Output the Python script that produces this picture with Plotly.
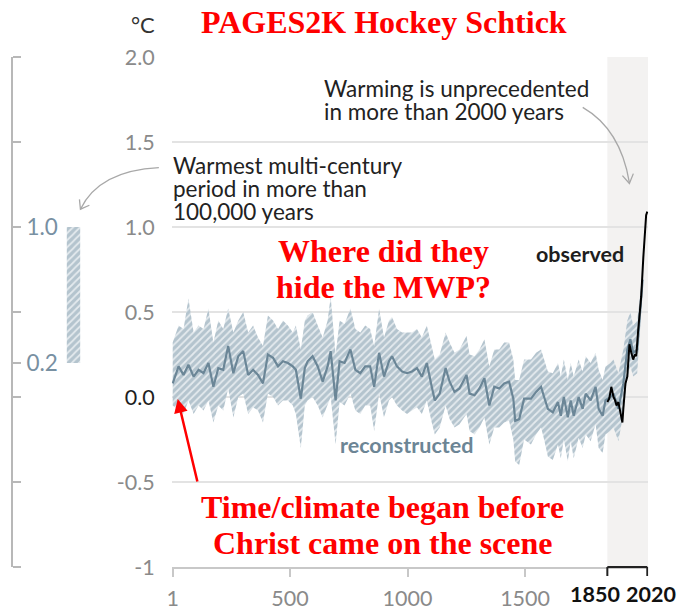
import plotly.graph_objects as go

# ---------------- data ----------------
years = [1, 26, 47, 68, 90, 111, 132, 153, 174, 195, 216, 237, 259, 280, 301, 322, 343, 364, 385,
         406, 428, 449, 470, 491, 512, 525, 546, 563, 575, 596, 618, 639, 660, 673, 694, 711, 732,
         757, 778, 799, 820, 841, 858, 879, 900, 921, 934, 955, 977, 998, 1019, 1040, 1061, 1082,
         1103, 1116, 1137, 1162, 1179, 1200, 1221, 1251, 1264, 1285, 1306, 1327, 1348, 1369, 1390,
         1411, 1432, 1450, 1458, 1475, 1496, 1525, 1547, 1568, 1581, 1597, 1618, 1640, 1652, 1665,
         1682, 1694, 1707, 1728, 1745, 1758, 1779, 1800, 1813, 1830, 1842, 1863, 1876, 1897, 1918,
         1935, 1948, 1960, 1977, 1990, 2000]
recon_mean = [0.08, 0.18, 0.13, 0.19, 0.12, 0.16, 0.14, 0.20, 0.06, 0.17, 0.16, 0.30, 0.14, 0.24,
              0.27, 0.13, 0.16, 0.13, 0.08, 0.25, 0.23, 0.18, 0.21, 0.20, 0.18, 0.16, -0.01, 0.17,
              0.21, 0.24, 0.18, 0.09, 0.18, 0.27, -0.02, 0.21, 0.20, 0.28, 0.16, 0.14, 0.18, 0.18,
              0.06, 0.26, 0.12, 0.21, 0.24, 0.18, 0.15, 0.14, 0.15, 0.17, 0.12, 0.20, 0.06, -0.02,
              0.02, 0.17, 0.09, 0.03, 0.05, 0.13, 0.02, 0.01, 0.05, 0.11, -0.05, 0.06, 0.05, 0.08,
              0.09, -0.01, -0.14, -0.13, -0.01, -0.01, 0.03, 0.06, 0.00, -0.07, -0.09, -0.03, -0.11,
              0.00, -0.12, -0.02, -0.11, 0.00, -0.07, 0.02, -0.02, 0.06, -0.07, -0.11, -0.02, 0.00,
              0.02, -0.07, 0.08, 0.28, 0.34, 0.26, 0.28, 0.53, 0.69]
recon_upper = [0.32, 0.42, 0.40, 0.58, 0.38, 0.42, 0.40, 0.52, 0.32, 0.45, 0.40, 0.52, 0.38, 0.45,
               0.50, 0.38, 0.42, 0.35, 0.30, 0.48, 0.45, 0.40, 0.45, 0.42, 0.38, 0.42, 0.28, 0.45,
               0.48, 0.50, 0.42, 0.35, 0.45, 0.59, 0.25, 0.45, 0.43, 0.52, 0.40, 0.38, 0.42, 0.40,
               0.30, 0.52, 0.35, 0.45, 0.47, 0.40, 0.38, 0.38, 0.38, 0.40, 0.35, 0.42, 0.30, 0.22,
               0.25, 0.38, 0.32, 0.26, 0.28, 0.36, 0.25, 0.24, 0.28, 0.34, 0.18, 0.28, 0.28, 0.32,
               0.32, 0.22, 0.10, 0.10, 0.22, 0.22, 0.26, 0.28, 0.22, 0.15, 0.14, 0.20, 0.12, 0.22,
               0.10, 0.20, 0.12, 0.22, 0.15, 0.24, 0.20, 0.26, 0.16, 0.10, 0.18, 0.20, 0.22, 0.14,
               0.28, 0.45, 0.50, 0.42, 0.45, 0.62, 0.72]
recon_lower = [-0.05, -0.08, -0.10, -0.02, -0.10, -0.05, -0.08, -0.02, -0.15, -0.05, -0.08, 0.05,
               -0.12, 0.00, 0.02, -0.10, -0.06, -0.08, -0.15, 0.02, 0.00, -0.05, -0.02, -0.02,
               -0.05, -0.10, -0.30, -0.05, -0.02, 0.00, -0.05, -0.12, -0.05, 0.00, -0.28, -0.03,
               -0.05, 0.02, -0.08, -0.10, -0.05, -0.05, -0.20, 0.02, -0.12, -0.02, 0.00, -0.05,
               -0.08, -0.10, -0.08, -0.06, -0.10, -0.02, -0.15, -0.22, -0.18, -0.05, -0.13, -0.18,
               -0.16, -0.10, -0.20, -0.22, -0.18, -0.12, -0.28, -0.18, -0.18, -0.15, -0.14, -0.25,
               -0.38, -0.40, -0.25, -0.28, -0.22, -0.18, -0.25, -0.35, -0.37, -0.28, -0.36, -0.25,
               -0.38, -0.26, -0.36, -0.24, -0.30, -0.22, -0.26, -0.16, -0.30, -0.33, -0.22, -0.20,
               -0.18, -0.26, -0.10, 0.12, 0.18, 0.12, 0.14, 0.42, 0.62]
obs_years = [1850, 1858, 1867, 1876, 1883, 1889, 1897, 1906, 1914, 1918, 1927, 1935, 1944, 1952,
             1960, 1967, 1973, 1981, 1994, 2003, 2010, 2015, 2020]
obs_values = [-0.03, -0.01, 0.06, 0.00, -0.02, -0.05, -0.03, -0.09, -0.15, -0.07, 0.08, 0.12,
              0.31, 0.26, 0.22, 0.25, 0.24, 0.39, 0.59, 0.82, 0.95, 1.07, 1.09]
warm_period = [0.2, 1.0]  # warmest multi-century period in >100,000 years

y_ticks = [-1, -0.5, 0, 0.5, 1, 1.5, 2]
y_tick_text = ["-1", "-0.5", "<span style='color:#1e1e1e'>0.0</span>", "0.5", "1.0", "1.5", "2.0"]
x_ticks = [1, 500, 1000, 1500]
x_tick_text = ["1", "500", "1000", "1500"]
left_ticks = [-1, -0.5, 0, 0.2, 0.5, 1, 1.5, 2]
left_tick_text = ["", "", "", "0.2", "", "1.0", "", ""]

# ---------------- geometry helpers ----------------
W, H = 681, 611
MT, MB = 57, 38
PH = H - MT - MB


def px(x):
    return x / W


def py(y):
    return (H - MB - y) / PH


BAND_BG = "#b4c4ce"
BAND_FG = "#e4eaee"
LINE_COL = "#6b8697"
GRAY_TXT = "#8a8a8a"
FONT = "Lato"
TICK_SIZE = 21.5
NOTE_SIZE = 22.5
RED_SIZE = 32

fig = go.Figure()

fig.add_trace(go.Scatter(x=years, y=recon_lower, mode="lines", line=dict(width=0),
                         hoverinfo="skip", showlegend=False))
fig.add_trace(go.Scatter(x=years, y=recon_upper, mode="lines", line=dict(width=0),
                         fill="tonexty", fillcolor=BAND_BG,
                         fillpattern=dict(shape="/", bgcolor=BAND_BG, fgcolor=BAND_FG,
                                          size=5, solidity=0.35, fillmode="replace"),
                         hoverinfo="skip", showlegend=False))
fig.add_trace(go.Scatter(x=years, y=recon_mean, mode="lines",
                         line=dict(color=LINE_COL, width=2.2), showlegend=False))
fig.add_trace(go.Scatter(x=obs_years, y=obs_values, mode="lines",
                         line=dict(color="black", width=2), showlegend=False))
fig.add_trace(go.Bar(x=[0], y=[warm_period[1] - warm_period[0]], base=[warm_period[0]],
                     width=1, xaxis="x2", yaxis="y2",
                     marker=dict(color=BAND_BG, line=dict(width=0),
                                 pattern=dict(shape="/", bgcolor=BAND_BG, fgcolor=BAND_FG,
                                              size=5, solidity=0.35, fillmode="replace")),
                     showlegend=False))

shapes = [
    dict(type="rect", xref="x", yref="paper", x0=1850, x1=2024, y0=0, y1=1,
         fillcolor="#f3f2f1", line=dict(width=0), layer="below"),
    dict(type="line", xref="x", yref="paper", x0=1850, x1=2020, y0=0, y1=0,
         line=dict(color="#222", width=2)),
    dict(type="line", xref="x", yref="paper", x0=1850, x1=1850, y0=0, y1=py(582),
         line=dict(color="#222", width=2)),
    dict(type="line", xref="x", yref="paper", x0=2020, x1=2020, y0=0, y1=py(582),
         line=dict(color="#222", width=2)),
    # curved arrow: warming unprecedented
    dict(type="path", xref="paper", yref="paper",
         path=f"M {px(582)} {py(108)} Q {px(620)} {py(130)} {px(629)} {py(184)}",
         line=dict(color="#a8a8a8", width=1.3)),
    dict(type="path", xref="paper", yref="paper",
         path=f"M {px(622)} {py(177)} L {px(629)} {py(185)} L {px(633)} {py(175)}",
         line=dict(color="#a8a8a8", width=1.3)),
    # curved arrow: warmest multi-century
    dict(type="path", xref="paper", yref="paper",
         path=f"M {px(155)} {py(169)} Q {px(95)} {py(172)} {px(76)} {py(211)}",
         line=dict(color="#a8a8a8", width=1.3)),
    dict(type="path", xref="paper", yref="paper",
         path=f"M {px(75)} {py(201)} L {px(76)} {py(211)} L {px(85)} {py(207)}",
         line=dict(color="#a8a8a8", width=1.3)),
]


def txt(text, x, y, size=NOTE_SIZE, color="#222", family=FONT, xanchor="left", bold=False):
    if bold:
        text = f"<b>{text}</b>"
    return dict(text=text, x=px(x), y=py(y), xref="paper", yref="paper", showarrow=False,
                xanchor=xanchor, yanchor="middle", font=dict(family=family, size=size, color=color))


RED = "#ff0000"
SERIF = "Liberation Serif"
annotations = [
    txt("PAGES2K Hockey Schtick", 382, 22, size=RED_SIZE, color=RED, family=SERIF,
        xanchor="center", bold=True),
    txt("°C", 139, 24, size=22, color="#333", xanchor="center"),
    txt("Warming is unprecedented", 319, 89),
    txt("in more than 2000 years", 319, 112),
    txt("Warmest multi-century", 167, 167),
    txt("period in more than", 167, 190),
    txt("100,000 years", 167, 213),
    txt("Where did they", 381, 253, size=RED_SIZE, color=RED, family=SERIF, xanchor="center",
        bold=True),
    txt("hide the MWP?", 381, 290, size=RED_SIZE, color=RED, family=SERIF, xanchor="center",
        bold=True),
    txt("observed", 533, 256, size=21.5, color="#1e1e1e", bold=True),
    txt("reconstructed", 335, 450, size=21.5, color="#6c8595", bold=True),
    txt("Time/climate began before", 380, 512, size=RED_SIZE, color=RED, family=SERIF,
        xanchor="center", bold=True),
    txt("Christ came on the scene", 380, 549, size=RED_SIZE, color=RED, family=SERIF,
        xanchor="center", bold=True),
    txt("1850", 594, 600, size=TICK_SIZE, color="#111", xanchor="center", bold=True),
    txt("2020", 651, 600, size=TICK_SIZE, color="#111", xanchor="center", bold=True),
    dict(text="", x=px(174), y=py(403), xref="paper", yref="paper", showarrow=True,
         ax=20, ay=84, arrowcolor=RED, arrowwidth=2.5, arrowhead=2, arrowsize=1.1),
]

fig.update_layout(
    width=W, height=H,
    margin=dict(l=0, r=0, t=MT, b=MB, pad=0),
    paper_bgcolor="white", plot_bgcolor="white",
    showlegend=False,
    xaxis=dict(domain=[px(168), px(648)], range=[-3, 2024], showgrid=False, zeroline=False,
               showline=True, linecolor="#c8c8c8", linewidth=2,
               ticks="outside", ticklen=8, tickwidth=1.5, tickcolor="#c8c8c8",
               tickvals=x_ticks, ticktext=x_tick_text, ticklabelstandoff=3,
               tickfont=dict(family=FONT, size=TICK_SIZE, color=GRAY_TXT)),
    yaxis=dict(range=[-1, 2], showgrid=True, gridcolor="#e3e3e3", gridwidth=2,
               zeroline=False, showline=False, ticks="",
               tickvals=y_ticks, ticktext=y_tick_text, ticklabelstandoff=16,
               tickfont=dict(family=FONT, size=TICK_SIZE, color=GRAY_TXT)),
    xaxis2=dict(domain=[px(62), px(76)], range=[-0.5, 0.5], visible=False, anchor="y2"),
    yaxis2=dict(range=[-1, 2], overlaying="y", anchor="free", position=px(7), side="right",
                showgrid=False, zeroline=False, showline=True, linecolor="#b8b8b8", linewidth=2,
                ticks="outside", ticklen=8, tickwidth=2, tickcolor="#b8b8b8",
                tickvals=left_ticks, ticktext=left_tick_text, ticklabelstandoff=1,
                tickfont=dict(family=FONT, size=22.5, color="#7890a2")),
    shapes=shapes,
    annotations=annotations,
)

fig.write_html("out.html", config={"displayModeBar": False},
               post_script="document.body.style.margin='0px';")
